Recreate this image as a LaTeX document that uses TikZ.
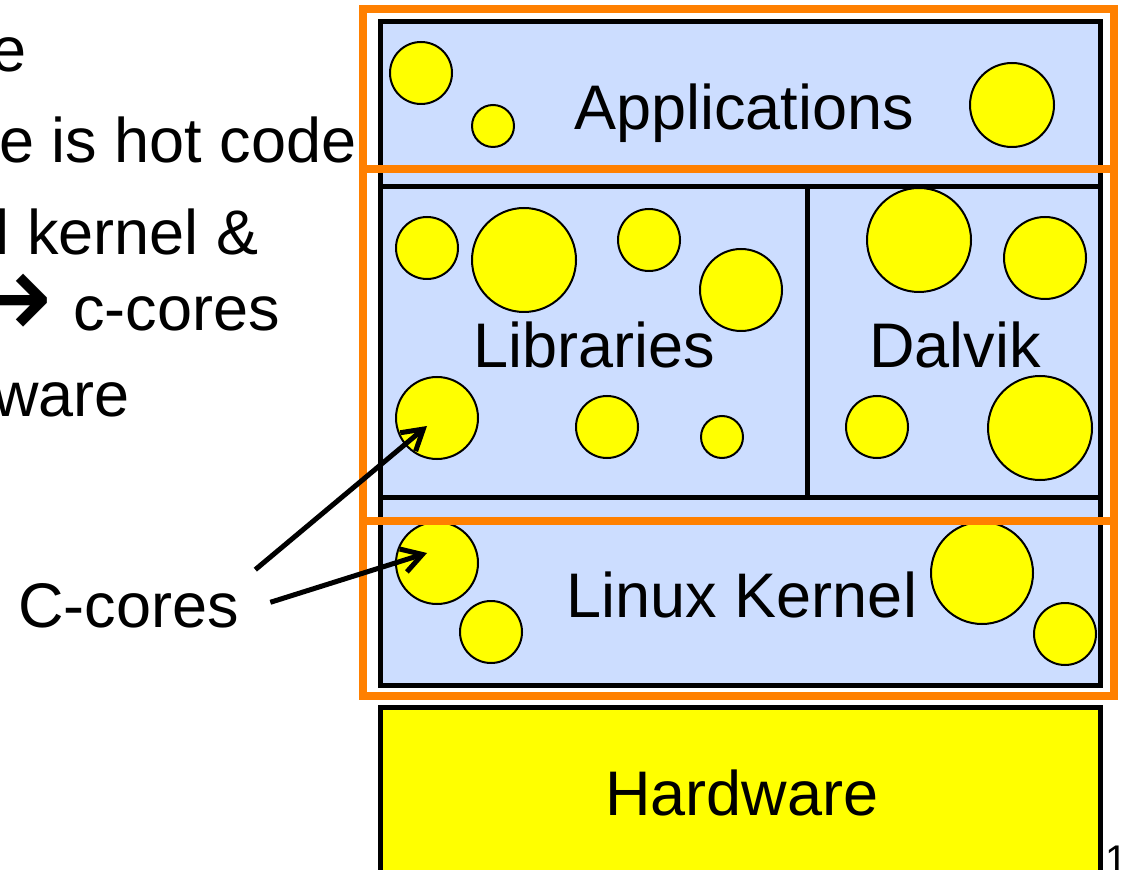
\documentclass[tikz,border=0pt]{standalone}
\usepackage{fontspec}
\setmainfont{Liberation Sans}
\newfontfamily\symfont{DejaVu Sans}
\usetikzlibrary{arrows.meta}
\definecolor{layerblue}{RGB}{204,221,255}
\definecolor{coreyellow}{RGB}{255,255,0}
\definecolor{hotorange}{RGB}{255,128,0}

\begin{document}
\begin{tikzpicture}[x=0.5pt,y=-0.5pt,
  layer/.style={draw=black,line width=2.5pt,fill=layerblue},
  core/.style={circle,draw=black,line width=1pt,fill=coreyellow,inner sep=0pt,minimum size=#1pt},
  lbl/.style={inner sep=0pt,font=\fontsize{31.5}{38}\selectfont},
  ptr/.style={line width=2.5pt,-{Straight Barb[length=10pt,width=12pt]}}]
\useasboundingbox (0,0) rectangle (1127,870);

\node[lbl,anchor=base east] (line1) at (27,72) {e};
\node[lbl,anchor=base east] (line2) at (357,163) {e is hot code};
\node[lbl,anchor=base east] (line3) at (259,255) {l kernel \&};
\node[inner sep=0pt,anchor=base east,font=\symfont\fontsize{62}{66}\selectfont] (line4a) at (54,340) {→};
\node[lbl,anchor=base east] (line4) at (280,331) {c-cores};
\node[lbl,anchor=base east] (line5) at (130,417) {ware};
\node[lbl,anchor=base west] (ccores) at (18,627) {C-cores};

\draw[layer] (380,22) rectangle (1100,187);
\draw[layer] (380,187) rectangle (807,497);
\draw[layer] (807,187) rectangle (1100,497);
\draw[layer] (380,497) rectangle (1100,685);
\draw[layer,fill=coreyellow] (380,707) rectangle (1100,900);

\node[core=31] (app1) at (421,73) {};
\node[core=21] (app2) at (493,126) {};
\node[core=42] (app3) at (1012,105) {};

\node[core=31] (lib1) at (427,248) {};
\node[core=52] (lib2) at (524,260) {};
\node[core=31] (lib3) at (649,240) {};
\node[core=41] (lib4) at (741,290) {};
\node[core=41] (lib5) at (437,418) {};
\node[core=31] (lib6) at (607,427) {};
\node[core=21] (lib7) at (722,437) {};

\node[core=52] (dvm1) at (919,240) {};
\node[core=41] (dvm2) at (1045,258) {};
\node[core=31] (dvm3) at (877,427) {};
\node[core=52] (dvm4) at (1040,428) {};

\node[core=41] (krn1) at (437,563) {};
\node[core=31] (krn2) at (491,632) {};
\node[core=51] (krn3) at (982,573) {};
\node[core=31] (krn4) at (1065,634) {};

\node[lbl,anchor=base] (apps) at (744,130) {Applications};
\node[lbl,anchor=base] (libs) at (594,368) {Libraries};
\node[lbl,anchor=base] (dalvik) at (955,368) {Dalvik};
\node[lbl,anchor=base] (kernel) at (742,617) {Linux Kernel};
\node[lbl,anchor=base] (hw) at (742,815) {Hardware};
\node[inner sep=0pt,anchor=base west,font=\fontsize{20}{24}\selectfont] (pageno) at (1105,873) {17};

\draw[hotorange,line width=4pt] (363,9) rectangle (1114,169) (363,169) rectangle (1114,521) (363,521) rectangle (1114,696);

\coordinate (libtip) at ([shift={(-10,8)}]lib5.center);
\coordinate (krntip) at ([shift={(-10,-10)}]krn1.center);
\draw[ptr] ([shift={(16,-13)}]ccores.north east) -- (libtip);
\draw[ptr] ([shift={(31,-3)}]ccores.east) -- (krntip);
\end{tikzpicture}
\end{document}
